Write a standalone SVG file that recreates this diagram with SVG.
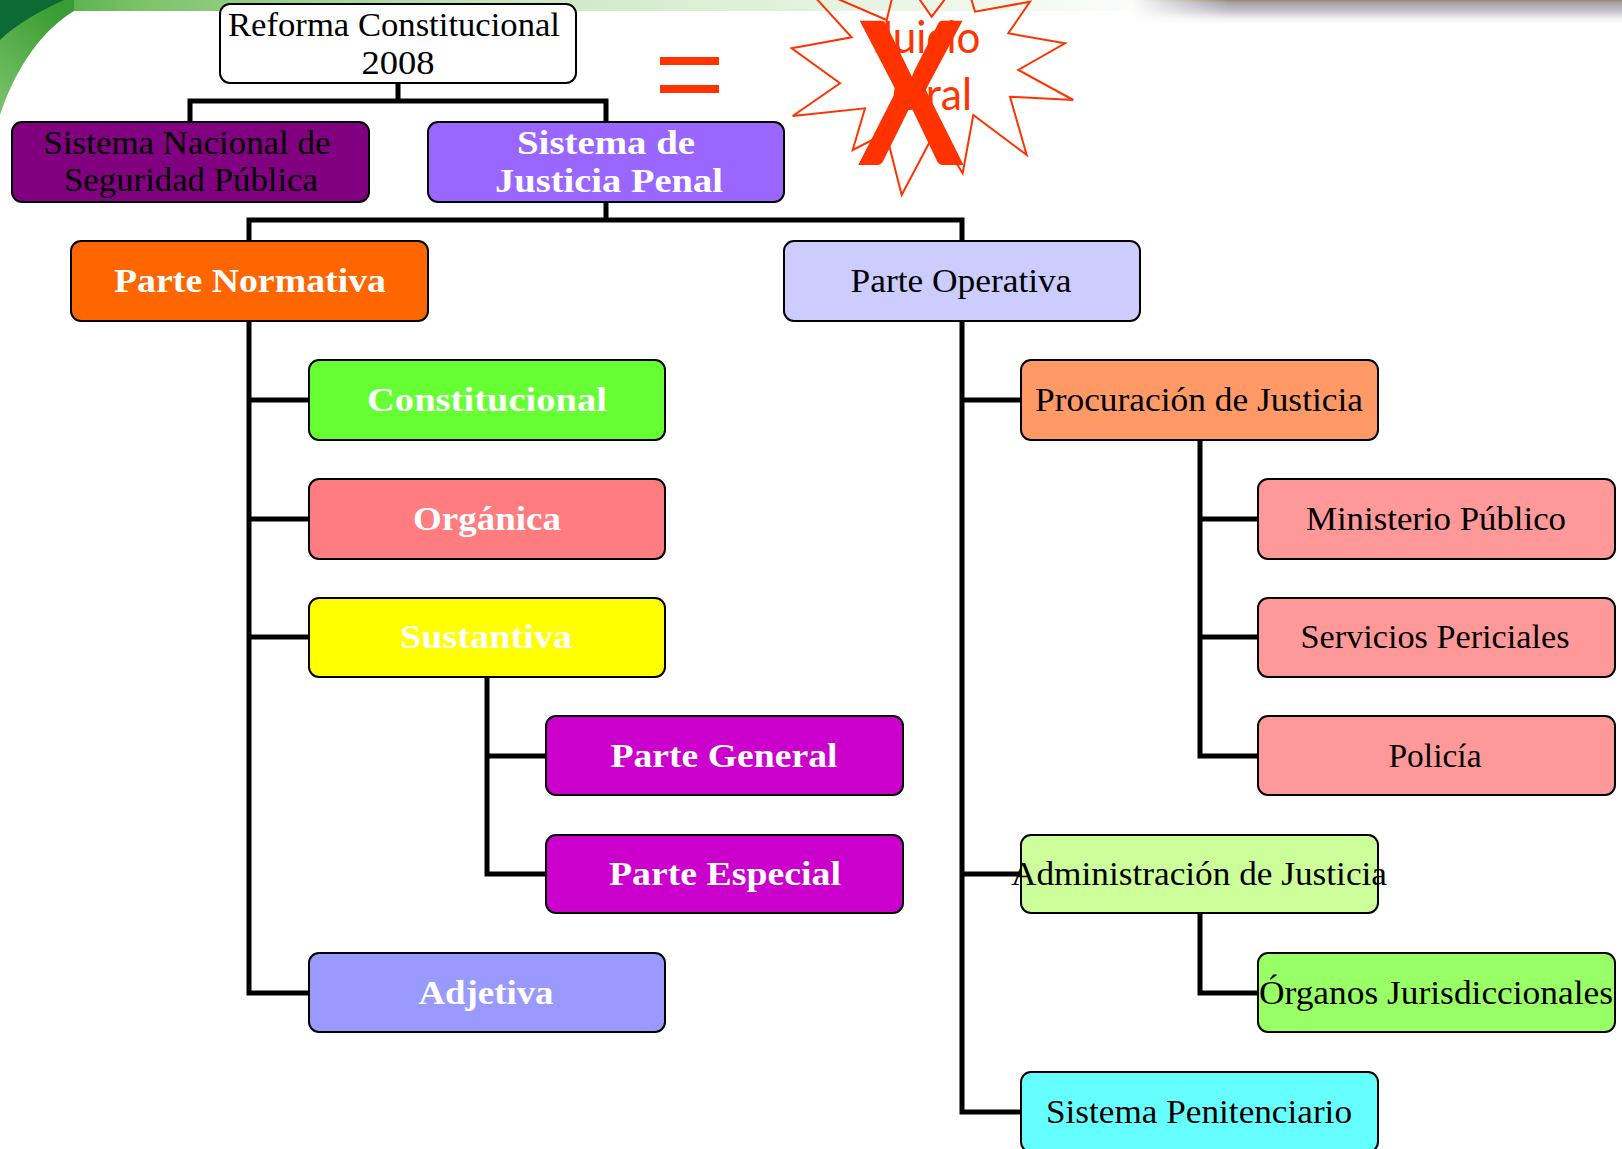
<svg xmlns="http://www.w3.org/2000/svg" width="1622" height="1149" viewBox="0 0 1622 1149">
<defs>
<style>
.box{stroke:#000;stroke-width:2;}
.con{fill:none;stroke:#000;stroke-width:5;stroke-linecap:square;}
.tb{font-family:"Liberation Serif",serif;font-weight:bold;font-size:34px;fill:#fff;text-anchor:middle;}
.tr{font-family:"Liberation Serif",serif;font-size:33px;fill:#000;text-anchor:middle;}
.red{fill:#FF3300;}
.jo{font-family:Lato,"Liberation Sans",sans-serif;font-size:44px;fill:#FF3300;text-anchor:middle;}
</style>
<linearGradient id="gBand" x1="0" y1="0" x2="1" y2="0">
<stop offset="0" stop-color="#3f9f36"/>
<stop offset="0.12" stop-color="#7cc46a"/>
<stop offset="0.45" stop-color="#cfe9c6"/>
<stop offset="0.8" stop-color="#eef7ea"/>
<stop offset="1" stop-color="#ffffff"/>
</linearGradient>
<linearGradient id="gSw" x1="0" y1="1" x2="0.6" y2="0">
<stop offset="0" stop-color="#7cc46a"/>
<stop offset="1" stop-color="#3a9c34"/>
</linearGradient>
<linearGradient id="gGray" x1="0" y1="0" x2="0" y2="1">
<stop offset="0" stop-color="#9a8a5c"/>
<stop offset="0.1" stop-color="#a49ea8"/>
<stop offset="0.45" stop-color="#c4c0cc"/>
<stop offset="0.75" stop-color="#eeeef0"/>
<stop offset="1" stop-color="#ffffff"/>
</linearGradient>
<linearGradient id="gFade" x1="0" y1="0" x2="1" y2="0">
<stop offset="0" stop-color="#ffffff" stop-opacity="1"/>
<stop offset="1" stop-color="#ffffff" stop-opacity="0"/>
</linearGradient>
</defs>
<rect x="0" y="0" width="1622" height="1149" fill="#ffffff"/>
<g id="background">
<rect x="0" y="0" width="1200" height="11" fill="url(#gBand)"/>
<rect x="1130" y="0" width="492" height="24" fill="url(#gGray)"/>
<rect x="1129" y="0" width="101" height="24" fill="url(#gFade)"/>
<path d="M0,115 C12,78 36,34 74,11 L74,0 L0,0 Z" fill="url(#gSw)"/>
<path d="M0,0 L64,0 C42,10 16,24 0,40 Z" fill="#0c6a34"/>
</g>
<g id="connectors">
<path class="con" d="M398,83 V101 M190,122 V101 H606 V122"/>
<path class="con" d="M606,202 V220 M249,241 V220 H962 V241"/>
<path class="con" d="M249,321 V993 H309 M249,400 H309 M249,519 H309 M249,637 H309"/>
<path class="con" d="M487,677 V874 H546 M487,756 H546"/>
<path class="con" d="M962,321 V1112 H1021 M962,400 H1021 M962,874 H1021"/>
<path class="con" d="M1200,440 V756 H1258 M1200,519 H1258 M1200,637 H1258"/>
<path class="con" d="M1200,913 V993 H1258"/>
</g>
<g id="n-reforma">
<rect class="box" x="220" y="4" width="356" height="79" rx="10" fill="#ffffff"/>
<text class="tr" x="394" y="36" textLength="332" lengthAdjust="spacingAndGlyphs">Reforma Constitucional</text>
<text class="tr" x="398" y="74" textLength="73" lengthAdjust="spacingAndGlyphs">2008</text>
</g>
<g id="n-snsp">
<rect class="box" x="12" y="122" width="357" height="80" rx="10" fill="#800080"/>
<text class="tr" x="187" y="154" textLength="287" lengthAdjust="spacingAndGlyphs">Sistema Nacional de</text>
<text class="tr" x="191" y="191" textLength="254" lengthAdjust="spacingAndGlyphs">Seguridad Pública</text>
</g>
<g id="n-sjp">
<rect class="box" x="428" y="122" width="356" height="80" rx="10" fill="#9966FF"/>
<text class="tb" x="606" y="154" textLength="178" lengthAdjust="spacingAndGlyphs">Sistema de</text>
<text class="tb" x="609" y="192" textLength="228" lengthAdjust="spacingAndGlyphs">Justicia Penal</text>
</g>
<g id="n-normativa">
<rect class="box" x="71" y="241" width="357" height="80" rx="10" fill="#FF6600"/>
<text class="tb" x="250" y="292" textLength="272" lengthAdjust="spacingAndGlyphs">Parte Normativa</text>
</g>
<g id="n-operativa">
<rect class="box" x="784" y="241" width="356" height="80" rx="10" fill="#CCCCFF"/>
<text class="tr" x="961" y="292" textLength="221" lengthAdjust="spacingAndGlyphs">Parte Operativa</text>
</g>
<g id="n-constitucional">
<rect class="box" x="309" y="360" width="356" height="80" rx="10" fill="#66FF33"/>
<text class="tb" x="487" y="411" textLength="240" lengthAdjust="spacingAndGlyphs">Constitucional</text>
</g>
<g id="n-organica">
<rect class="box" x="309" y="479" width="356" height="80" rx="10" fill="#FF7C80"/>
<text class="tb" x="487" y="530" textLength="148" lengthAdjust="spacingAndGlyphs">Orgánica</text>
</g>
<g id="n-sustantiva">
<rect class="box" x="309" y="598" width="356" height="79" rx="10" fill="#FFFF00"/>
<text class="tb" x="486" y="648" textLength="172" lengthAdjust="spacingAndGlyphs">Sustantiva</text>
</g>
<g id="n-general">
<rect class="box" x="546" y="716" width="357" height="79" rx="10" fill="#CC00CC"/>
<text class="tb" x="724" y="767" textLength="227" lengthAdjust="spacingAndGlyphs">Parte General</text>
</g>
<g id="n-especial">
<rect class="box" x="546" y="835" width="357" height="78" rx="10" fill="#CC00CC"/>
<text class="tb" x="725" y="885" textLength="232" lengthAdjust="spacingAndGlyphs">Parte Especial</text>
</g>
<g id="n-adjetiva">
<rect class="box" x="309" y="953" width="356" height="79" rx="10" fill="#9999FF"/>
<text class="tb" x="486" y="1004" textLength="135" lengthAdjust="spacingAndGlyphs">Adjetiva</text>
</g>
<g id="n-procuracion">
<rect class="box" x="1021" y="360" width="357" height="80" rx="10" fill="#FF9966"/>
<text class="tr" x="1199" y="411" textLength="328" lengthAdjust="spacingAndGlyphs">Procuración de Justicia</text>
</g>
<g id="n-ministerio">
<rect class="box" x="1258" y="479" width="357" height="80" rx="10" fill="#FF9999"/>
<text class="tr" x="1436" y="530" textLength="260" lengthAdjust="spacingAndGlyphs">Ministerio Público</text>
</g>
<g id="n-servicios">
<rect class="box" x="1258" y="598" width="357" height="79" rx="10" fill="#FF9999"/>
<text class="tr" x="1435" y="648" textLength="269" lengthAdjust="spacingAndGlyphs">Servicios Periciales</text>
</g>
<g id="n-policia">
<rect class="box" x="1258" y="716" width="357" height="79" rx="10" fill="#FF9999"/>
<text class="tr" x="1435" y="767" textLength="93" lengthAdjust="spacingAndGlyphs">Policía</text>
</g>
<g id="n-administracion">
<rect class="box" x="1021" y="835" width="357" height="78" rx="10" fill="#CCFF99"/>
<text class="tr" x="1199" y="885" textLength="376" lengthAdjust="spacingAndGlyphs">Administración de Justicia</text>
</g>
<g id="n-organos">
<rect class="box" x="1258" y="953" width="357" height="79" rx="10" fill="#99FF66"/>
<text class="tr" x="1436" y="1004" textLength="354" lengthAdjust="spacingAndGlyphs">Órganos Jurisdiccionales</text>
</g>
<g id="n-penitenciario">
<rect class="box" x="1021" y="1072" width="357" height="80" rx="10" fill="#66FFFF"/>
<text class="tr" x="1199" y="1123" textLength="306" lengthAdjust="spacingAndGlyphs">Sistema Penitenciario</text>
</g>
<g id="equals">
<rect class="red" x="660" y="57" width="59" height="8"/>
<rect class="red" x="660" y="85" width="59" height="8"/>
</g>
<g id="juicio-oral">
<polygon points="791.7,48.3 851.7,37.3 803,-16 886.7,20 899,-30 931.7,16.7 964,-26 975,11.7 1030,1.7 1008.3,33.3 1065,43.3 1018.3,70 1073.3,100 1010,96.7 1026.7,155 973.3,115 962.7,173.3 936,130 901.7,195 886,133 852.7,150 865,108.3 792.7,116 840,83.3" fill="none" stroke="#FF3300" stroke-width="2" stroke-linejoin="miter"/>
<text class="jo" x="928" y="53" textLength="105" lengthAdjust="spacingAndGlyphs">Juicio</text>
<text class="jo" x="932" y="110" textLength="80" lengthAdjust="spacingAndGlyphs">Oral</text>
<text x="911" y="165" font-family="Lato,'Liberation Sans',sans-serif" font-size="200" font-weight="bold" fill="#FF3300" text-anchor="middle" textLength="106" lengthAdjust="spacingAndGlyphs">X</text>
</g>
</svg>
